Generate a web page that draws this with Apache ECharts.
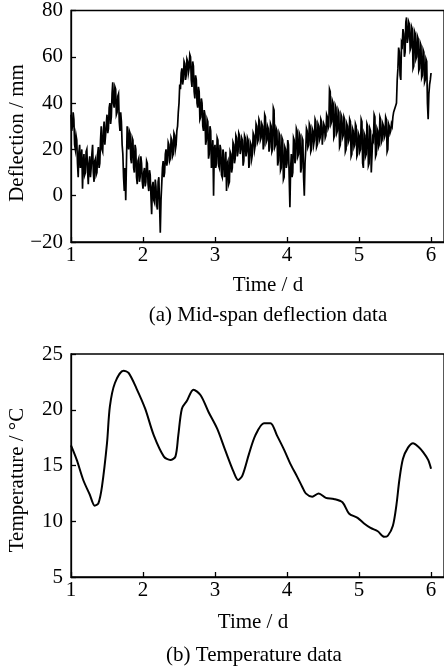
<!DOCTYPE html>
<html>
<head>
<meta charset="utf-8">
<script src="https://cdn.jsdelivr.net/npm/echarts@6/dist/echarts.min.js"></script>
<style>
html,body{margin:0;padding:0;background:#fff;}
#c{width:444px;height:670px;}
</style>
</head>
<body>
<div id="c"></div>
<script>
// ---- Data ----
const xTicks = [1, 2, 3, 4, 5, 6];
const deflYTicks = [-20, 0, 20, 40, 60, 80];
const tempYTicks = [5, 10, 15, 20, 25];

// Mid-span deflection (mm), evenly sampled from day 1.00 to day 6.00 (~0.01 d)
const deflStart = 1.0;
const deflEnd = 6.0;
const deflection = [
  35, 28, 30, 36, 33, 22, 20, 26, 24, 14, 8, 19, 22, 12, 15, 20, 3, 14, 18, 9,
  10, 19, 20, 11, 5, 14, 17, 8, 12, 18, 22, 10, 6, 15, 16, 9, 10, 18, 21, 12,
  14, 24, 30, 20, 19, 28, 32, 22, 26, 31,
  35, 27, 29, 38, 40, 31, 34, 44, 49, 40, 38, 47, 46, 35, 36, 43, 44, 32, 28, 36,
  32, 22, 18, 8, 2, 12, -2, 14, 30, 24, 20, 28, 27, 16, 14, 25, 24, 12, 10, 22,
  20, 8, 5, 15, 16, 6, 8, 17, 14, 6,
  3, 10, 12, 4, 6, 15, 14, 5, 2, 11, 9, 0, -8, 4, 6, -2, -3, 7, 4, -4,
  -6, 6, 8, -4, -16, -2, 5, 12, 15, 8, 10, 18, 20, 13, 15, 23, 22, 15, 16, 25,
  24, 17, 18, 27, 26, 20, 22, 28, 30, 36,
  40, 48, 46, 53, 55, 48, 50, 58, 57, 50, 52, 59, 58, 53, 55, 61, 60, 50, 47, 58,
  56, 45, 42, 52, 50, 40, 38, 47, 45, 33, 34, 42, 40, 30, 28, 37, 35, 22, 24, 33,
  32, 16, 18, 30, 28, 12, 16, 24, 0, 20,
  22, 12, 14, 25, 24, 13, 12, 22, 20, 9, 8, 20, 18, 8, 10, 19, 2, 14, 15, 5,
  6, 19, 18, 10, 12, 23, 22, 14, 16, 26, 25, 17, 19, 27, 26, 18, 20, 25, 24, 13,
  15, 26, 25, 17, 19, 25, 24, 12, 14, 23,
  22, 16, 18, 27, 26, 20, 22, 31, 30, 23, 24, 33, 32, 24, 25, 31, 30, 20, 22, 35,
  34, 23, 24, 30, 29, 19, 21, 31, 30, 19, 20, 38, 37, 21, 22, 29, 28, 13, 15, 27,
  26, 11, 12, 25, 24, 7, 8, 21, 20, 12,
  14, 24, 22, 8, -5, 12, 18, 8, 10, 25, 24, 14, 16, 29, 28, 17, 18, 27, 26, 10,
  12, 25, 24, 8, 0, 14, 20, 29, 28, 21, 22, 31, 30, 19, 20, 29, 28, 22, 24, 33,
  32, 21, 22, 31, 30, 24, 25, 33, 32, 22,
  22, 31, 30, 25, 26, 35, 34, 29, 30, 46, 45, 31, 32, 41, 40, 25, 26, 39, 38, 27,
  28, 37, 36, 21, 22, 35, 34, 25, 26, 34, 33, 19, 20, 31, 30, 23, 24, 33, 32, 17,
  18, 29, 28, 21, 22, 31, 30, 17, 18, 27,
  26, 19, 20, 33, 32, 14, 12, 27, 26, 17, 18, 31, 30, 13, 14, 29, 28, 10, 10, 25,
  24, 35, 34, 17, 18, 29, 28, 21, 22, 34, 33, 23, 24, 31, 30, 25, 26, 34, 33, 19,
  20, 31, 30, 27, 28, 31, 30, 34, 36, 37,
  38, 39, 40, 50, 55, 64, 62, 52, 50, 66, 65, 72, 70, 60, 62, 75, 77, 66, 68, 75,
  74, 63, 64, 73, 72, 55, 56, 71, 70, 59, 60, 69, 68, 54, 55, 66, 65, 51, 52, 63,
  62, 49, 50, 59, 58, 40, 33, 44, 48, 50, 53
];

// Temperature (°C)
const tempDays = [
  1.00, 1.08, 1.17, 1.26, 1.33, 1.38, 1.43, 1.50, 1.54, 1.61, 1.73, 1.80, 1.91,
  2.03, 2.15, 2.29, 2.38, 2.45, 2.49, 2.54, 2.61, 2.70, 2.80, 2.91,
  3.03, 3.14, 3.26, 3.32, 3.38, 3.47, 3.56, 3.68, 3.77, 3.86, 3.96,
  4.05, 4.14, 4.21, 4.26, 4.35, 4.44, 4.54, 4.65, 4.77, 4.86, 4.98,
  5.07, 5.16, 5.26, 5.35, 5.40, 5.47, 5.52, 5.56, 5.61, 5.68, 5.75, 5.82, 5.89, 5.96, 6.00
];
const tempValues = [
  16.8, 15.5, 13.7, 12.4, 11.4, 11.6, 13.1, 17.0, 20.3, 22.4, 23.5, 23.3, 21.9,
  20.1, 17.7, 15.8, 15.5, 15.8, 17.7, 20.1, 20.8, 21.8, 21.3, 19.8,
  18.3, 16.4, 14.4, 13.7, 14.1, 16.0, 17.7, 18.8, 18.8, 17.7, 16.4,
  15.1, 14.0, 13.1, 12.5, 12.2, 12.5, 12.1, 12.0, 11.7, 10.7, 10.3,
  9.8, 9.4, 9.1, 8.6, 8.7, 9.6, 11.5, 13.7, 15.6, 16.6, 17.0, 16.7, 16.2, 15.5, 14.7
];

// ---- Build ----
const deflStep = (deflEnd - deflStart) / (deflection.length - 1);
const deflData = deflection.map((v, i) => [deflStart + i * deflStep, v]);
const tempData = tempDays.map((d, i) => [d, tempValues[i]]);

const FONT = '"Liberation Serif", "DejaVu Serif", serif';
const FS = 21;
const labelStyle = { fontFamily: FONT, fontSize: FS, color: '#000' };

function xAx(gridIndex) {
  return {
    type: 'value', gridIndex, min: 1, max: 6.18, interval: 1,
    axisLine: { onZero: false, lineStyle: { color: '#000', width: 1.3 } },
    axisTick: { inside: true, length: 5, lineStyle: { color: '#000', width: 1.3 }, customValues: xTicks },
    axisLabel: Object.assign({ margin: 3, customValues: xTicks }, labelStyle),
    splitLine: { show: false }
  };
}
function yAx(gridIndex, min, max, interval, ticks) {
  return {
    type: 'value', gridIndex, min, max, interval,
    axisLine: { show: true, onZero: false, lineStyle: { color: '#000', width: 1.3 } },
    axisTick: { show: true, inside: true, length: 5, lineStyle: { color: '#000', width: 1.3 }, customValues: ticks },
    axisLabel: Object.assign({ margin: 8, customValues: ticks, formatter: v => String(v).replace('-', '\u2212') }, labelStyle),
    splitLine: { show: false }
  };
}

const chart = echarts.init(document.getElementById('c'), null, { renderer: 'canvas' });
chart.setOption({
  backgroundColor: '#fff',
  animation: false,
  grid: [
    { left: 71, top: 10, right: -3, height: 232, show: true, borderColor: '#000', borderWidth: 1.3, backgroundColor: 'transparent' },
    { left: 71, top: 354, right: -3, height: 223, show: true, borderColor: '#000', borderWidth: 1.3, backgroundColor: 'transparent' }
  ],
  xAxis: [xAx(0), xAx(1)],
  yAxis: [yAx(0, -20, 80, 20, deflYTicks), yAx(1, 5, 25, 5, tempYTicks)],
  series: [
    { type: 'line', xAxisIndex: 0, yAxisIndex: 0, data: deflData, showSymbol: false, symbol: 'none',
      lineStyle: { color: '#000', width: 1.7, join: 'miter' } },
    { type: 'line', xAxisIndex: 1, yAxisIndex: 1, data: tempData, showSymbol: false, symbol: 'none', smooth: 0.3,
      lineStyle: { color: '#000', width: 2 } }
  ],
  graphic: [
    { type: 'text', x: 17, y: 133, rotation: Math.PI / 2, style: { text: 'Deflection / mm', font: FS + 'px ' + FONT, fill: '#000', textAlign: 'center', textVerticalAlign: 'middle' } },
    { type: 'text', x: 268, y: 285, style: { text: 'Time / d', font: FS + 'px ' + FONT, fill: '#000', textAlign: 'center', textVerticalAlign: 'middle' } },
    { type: 'text', x: 268, y: 315, style: { text: '(a) Mid-span deflection data', font: FS + 'px ' + FONT, fill: '#000', textAlign: 'center', textVerticalAlign: 'middle' } },
    { type: 'text', x: 17, y: 480, rotation: Math.PI / 2, style: { text: 'Temperature / \u00B0C', font: FS + 'px ' + FONT, fill: '#000', textAlign: 'center', textVerticalAlign: 'middle' } },
    { type: 'text', x: 253, y: 622, style: { text: 'Time / d', font: FS + 'px ' + FONT, fill: '#000', textAlign: 'center', textVerticalAlign: 'middle' } },
    { type: 'text', x: 254, y: 655, style: { text: '(b) Temperature data', font: FS + 'px ' + FONT, fill: '#000', textAlign: 'center', textVerticalAlign: 'middle' } }
  ]
});
</script>
</body>
</html>
